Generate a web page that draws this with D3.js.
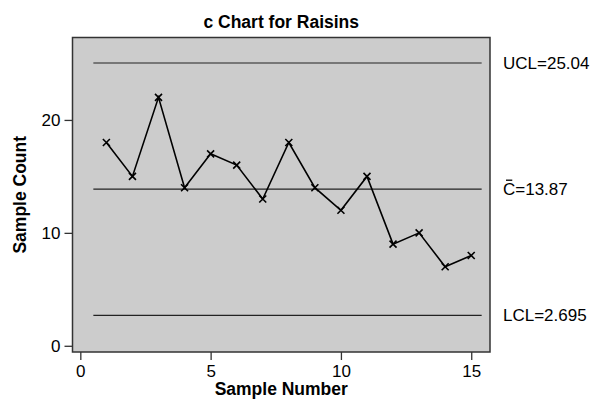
<!DOCTYPE html>
<html>
<head>
<meta charset="utf-8">
<script src="https://cdn.jsdelivr.net/npm/d3@7"></script>
<style>
  html, body { margin: 0; padding: 0; background: #ffffff; }
  svg { display: block; font-family: "Liberation Sans", Arial, sans-serif; }
</style>
</head>
<body>
<svg id="chart" width="595" height="402"></svg>
<script>
// ---- Data ----
const sampleNumbers = [1, 2, 3, 4, 5, 6, 7, 8, 9, 10, 11, 12, 13, 14, 15];
const sampleCounts  = [18, 15, 22, 14, 17, 16, 13, 18, 14, 12, 15, 9, 10, 7, 8];
const limitValues   = [25.04, 13.87, 2.695];
const limitLabels   = ["UCL=25.04", "C=13.87", "LCL=2.695"];
const limitBarred   = [false, true, false];   // C-bar overline on the center-line label
const xTickValues   = [0, 5, 10, 15];
const yTickValues   = [0, 10, 20];
const titleText     = "c Chart for Raisins";
const xTitle        = "Sample Number";
const yTitle        = "Sample Count";

// ---- Layout ----
const svg = d3.select("#chart");
const plot = { left: 72.5, right: 490, top: 37.5, bottom: 352 };

const x = d3.scaleLinear().domain([-0.3, 15.72]).range([plot.left, plot.right]);
const y = d3.scaleLinear().domain([-0.55, 27.3]).range([plot.bottom, plot.top]);

// background
svg.append("rect")
  .attr("x", plot.left).attr("y", plot.top)
  .attr("width", plot.right - plot.left).attr("height", plot.bottom - plot.top)
  .attr("fill", "#cccccc");

// limit lines
const lineExtent = [0.5, 15.4];
svg.append("g").selectAll("line").data(limitValues).join("line")
  .attr("x1", x(lineExtent[0])).attr("x2", x(lineExtent[1]))
  .attr("y1", d => y(d)).attr("y2", d => y(d))
  .attr("stroke", "#222").attr("stroke-width", 1.2);

// data line
const pts = sampleNumbers.map((n, i) => [n, sampleCounts[i]]);
svg.append("path")
  .datum(pts)
  .attr("fill", "none").attr("stroke", "#000").attr("stroke-width", 1.6)
  .attr("d", d3.line().x(d => x(d[0])).y(d => y(d[1])));

// x markers
const s = 3.5;
svg.append("g").selectAll("path").data(pts).join("path")
  .attr("d", d => {
    const cx = x(d[0]), cy = y(d[1]);
    return `M${cx - s},${cy - s}L${cx + s},${cy + s}M${cx - s},${cy + s}L${cx + s},${cy - s}`;
  })
  .attr("stroke", "#000").attr("stroke-width", 1.6).attr("fill", "none");

// border
svg.append("rect")
  .attr("x", plot.left).attr("y", plot.top)
  .attr("width", plot.right - plot.left).attr("height", plot.bottom - plot.top)
  .attr("fill", "none").attr("stroke", "#333").attr("stroke-width", 1.5);

// axes
const xAxis = d3.axisBottom(x).tickValues(xTickValues).tickSize(8).tickPadding(5);
const yAxis = d3.axisLeft(y).tickValues(yTickValues).tickSize(8).tickPadding(4);

const gx = svg.append("g").attr("transform", `translate(0,${plot.bottom})`).call(xAxis);
const gy = svg.append("g").attr("transform", `translate(${plot.left},0)`).call(yAxis);
[gx, gy].forEach(g => {
  g.select(".domain").remove();
  g.selectAll(".tick line").attr("stroke", "#333").attr("stroke-width", 1.3);
  g.selectAll(".tick text")
    .attr("fill", "#000")
    .style("font-size", "17px")
    .style("font-family", "Liberation Sans, Arial, sans-serif");
});

// limit labels
const labelX = 503;
const lg = svg.append("g");
lg.selectAll("text").data(limitValues).join("text")
  .attr("x", labelX).attr("y", d => y(d))
  .attr("dy", "0.35em")
  .style("font-size", "17px")
  .attr("fill", "#000")
  .text((d, i) => limitLabels[i])
  .each(function (d, i) {
    if (!limitBarred[i]) return;
    const w = this.getSubStringLength(0, 1);
    const yy = y(d) - 0.35 * 17 - 3;   // just above cap height
    lg.append("line")
      .attr("x1", labelX + 3).attr("x2", labelX + w - 3)
      .attr("y1", yy).attr("y2", yy)
      .attr("stroke", "#000").attr("stroke-width", 1.3);
  });

// title
svg.append("text")
  .attr("x", (plot.left + plot.right) / 2).attr("y", 28)
  .attr("text-anchor", "middle")
  .style("font-size", "17.5px").style("font-weight", "bold")
  .text(titleText);

// x title
svg.append("text")
  .attr("x", (plot.left + plot.right) / 2).attr("y", 395)
  .attr("text-anchor", "middle")
  .style("font-size", "17.5px").style("font-weight", "bold")
  .text(xTitle);

// y title
svg.append("text")
  .attr("transform", `translate(26,${(plot.top + plot.bottom) / 2}) rotate(-90)`)
  .attr("text-anchor", "middle")
  .style("font-size", "17.5px").style("font-weight", "bold")
  .text(yTitle);
</script>
</body>
</html>
